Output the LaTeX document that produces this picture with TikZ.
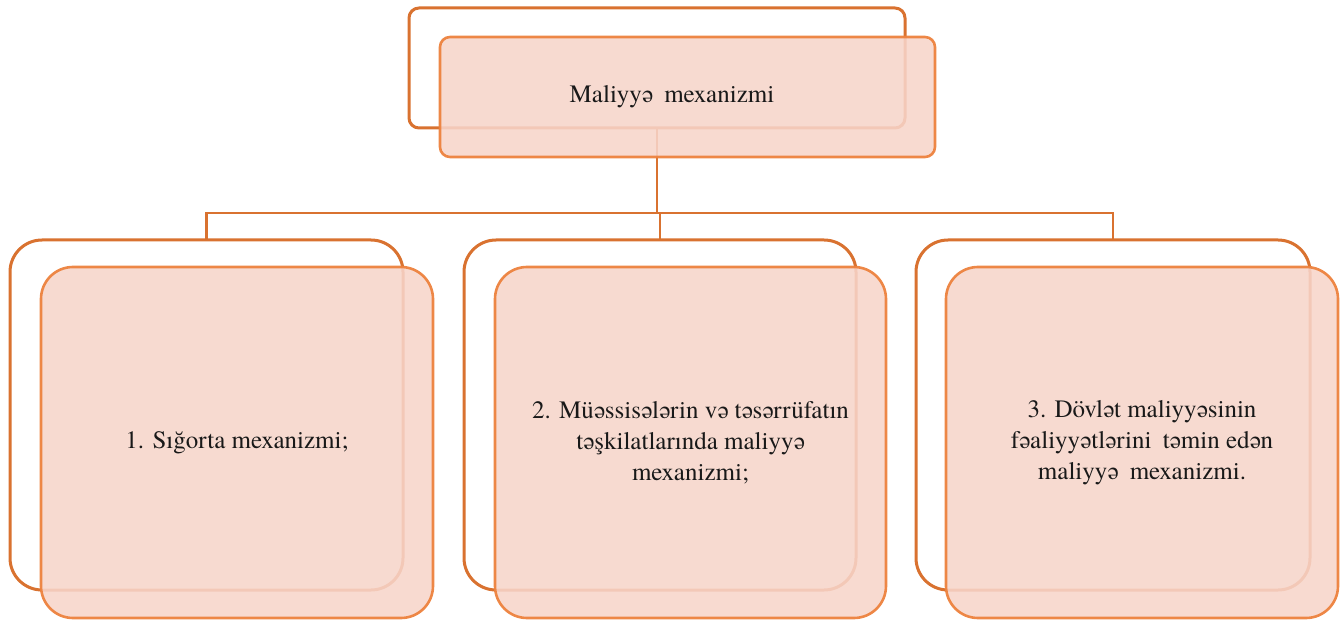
\documentclass[tikz,border=0pt]{standalone}
\usepackage{fontspec}
\usepackage{newunicodechar}
\newfontfamily\fbfont{DejaVu Serif}[Scale=0.9]
\IfFontExistsTF{texgyretermes-regular.otf}
  {\setmainfont{texgyretermes-regular.otf}}
  {\setmainfont{DejaVu Serif}}
\newunicodechar{ə}{\iffontchar\font"0259 \char"0259 \else{\fbfont\char"0259}\fi}
\definecolor{backline}{RGB}{217,114,48}
\definecolor{frontline}{RGB}{237,130,62}
\definecolor{frontfill}{RGB}{247,213,202}
\definecolor{txt}{RGB}{25,25,25}
\begin{document}
\begin{tikzpicture}[x=1pt,y=-1pt,
  backbox/.style={draw=backline,line width=3pt,fill=white,inner sep=0pt,outer sep=0pt},
  frontbox/.style={draw=frontline,line width=2.6pt,fill=frontfill,fill opacity=0.88,draw opacity=0.95,text opacity=1,inner sep=0pt,outer sep=0pt,
    font=\rmfamily\fontsize{25}{31}\selectfont,text=txt,align=center},
  smallr/.style={rounded corners=10pt},
  bigr/.style={rounded corners=32pt},
  conn/.style={draw=backline,line width=2.6pt}]
\useasboundingbox (0,0) rectangle (1342,620);
% back boxes
\node[backbox,smallr,minimum width=496pt,minimum height=120pt] (tb) at (657,68) {};
\node[backbox,bigr,minimum width=393pt,minimum height=350pt] (lb) at (206.5,415) {};
\node[backbox,bigr,minimum width=392pt,minimum height=350pt] (mb) at (660,415) {};
\node[backbox,bigr,minimum width=394pt,minimum height=350pt] (rb) at (1113,415) {};
% connectors
\coordinate (bus) at (0,213);
\draw[conn] (tb.south) -- (tb.south |- bus);
\draw[conn] (lb.north) |- (tb.south |- bus) -| (rb.north);
\draw[conn] (mb.north) -- (mb.north |- bus);
% front boxes
\node[frontbox,smallr,minimum width=495pt,minimum height=120pt] (tf) at (687.5,97) {};
\node[text=txt,font=\rmfamily\fontsize{25}{31}\selectfont,inner sep=0pt] (tt) at (672,97) {Maliyyə\hspace{0.45em}mexanizmi};
\node[frontbox,bigr,minimum width=392pt,minimum height=351pt] (lf) at (237,442.5) {1. Sığorta mexanizmi;};
\node[frontbox,bigr,minimum width=391pt,minimum height=351pt] (mf) at (690.5,442.5) {2. Müəssisələrin və təsərrüfatın\\ təşkilatlarında maliyyə\\ mexanizmi;};
\node[frontbox,bigr,minimum width=392pt,minimum height=351pt] (rf) at (1142,442.5) {3. Dövlət maliyyəsinin\\ fəaliyyətlərini\hspace{0.45em}təmin edən\\ maliyyə\hspace{0.45em}mexanizmi.};
\end{tikzpicture}
\end{document}
